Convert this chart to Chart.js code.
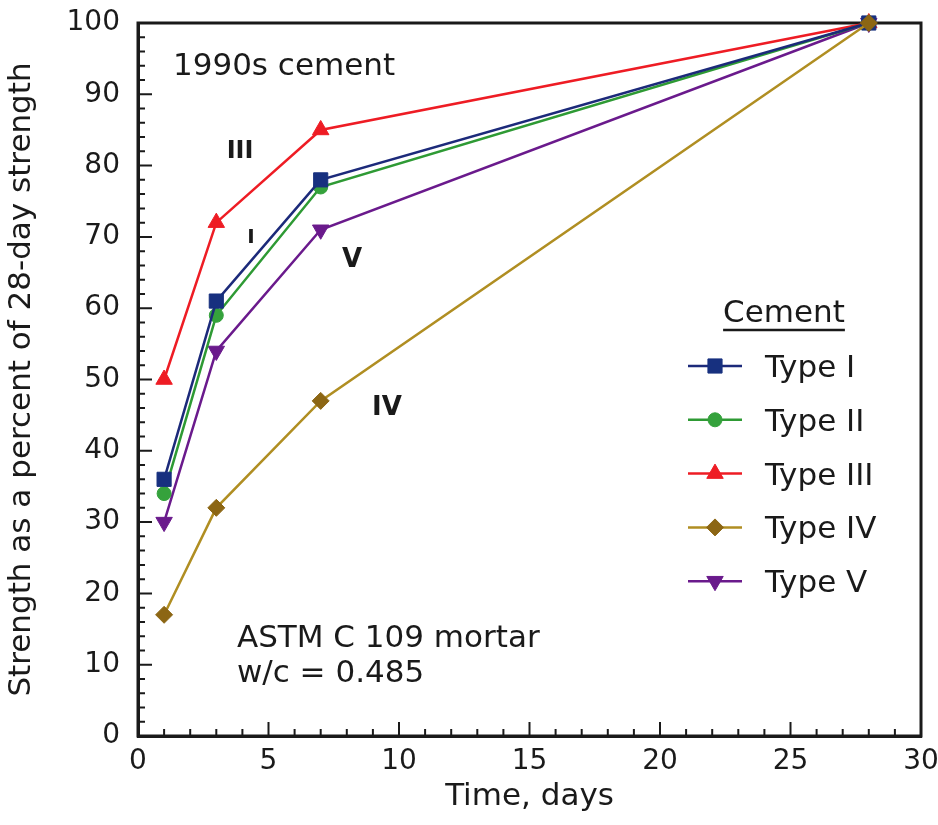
<!DOCTYPE html>
<html><head><meta charset="utf-8">
<script src="https://cdn.jsdelivr.net/npm/chart.js@4.4.1/dist/chart.umd.min.js"></script>
<style>html,body{margin:0;padding:0;background:#fff;}#wrap{width:938px;height:825px;}</style>
</head><body><div id="wrap"><canvas id="c" width="938" height="825"></canvas></div>
<script>
// ---- data ----
const days = [1, 3, 7, 28];
const typeI = [36, 61, 78, 100];
const typeII = [34, 59, 77, 100];
const typeIII = [50, 72, 85, 100];
const typeIV = [17, 32, 47, 100];
const typeV = [30, 54, 71, 100];
const seriesNames = ['Type I', 'Type II', 'Type III', 'Type IV', 'Type V'];
const xTickValues = [0, 5, 10, 15, 20, 25, 30];
const yTickValues = [0, 10, 20, 30, 40, 50, 60, 70, 80, 90, 100];
const xAxisTitle = 'Time, days';
const yAxisTitle = 'Strength as a percent of 28-day strength';
const legendTitle = 'Cement';

const FONT = "'DejaVu Sans', 'Liberation Sans', sans-serif";
const INK = '#1a1a1a';

// styles
const styles = [
  {line: '#1c2a7a', fill: '#17307f', shape: 'rect', r: 10, rot: 0},
  {line: '#2e9a34', fill: '#35a23c', shape: 'circle', r: 7, rot: 0},
  {line: '#ee1c24', fill: '#ee1c24', shape: 'triangle', r: 9.5, rot: 0},
  {line: '#b08e22', fill: '#8c6614', shape: 'rectRot', r: 8.5, rot: 0},
  {line: '#6a1a8c', fill: '#6a1a8c', shape: 'triangle', r: 9.5, rot: 180}
];
const values = [typeI, typeII, typeIII, typeIV, typeV];
const drawOrder = [1, 2, 3, 0, 4];

// annotations in data coordinates
const notes = [
  {text: '1990s cement', x: 1.34, y: 92.7, font: '31px ' + FONT, align: 'left'},
  {text: 'III', x: 3.91, y: 81.1, font: 'bold 24px ' + FONT, align: 'center'},
  {text: 'I', x: 4.33, y: 69.1, font: 'bold 20px ' + FONT, align: 'center'},
  {text: 'V', x: 8.2, y: 65.8, font: 'bold 26px ' + FONT, align: 'center'},
  {text: 'IV', x: 9.54, y: 45.0, font: 'bold 26px ' + FONT, align: 'center'},
  {text: 'ASTM C 109 mortar', x: 3.79, y: 12.5, font: '31px ' + FONT, align: 'left'},
  {text: 'w/c = 0.485', x: 3.79, y: 7.6, font: '31px ' + FONT, align: 'left'}
];

const datasets = seriesNames.map((name, i) => ({
  label: name,
  data: days.map((d, j) => ({x: d, y: values[i][j]})),
  borderColor: styles[i].line,
  backgroundColor: styles[i].fill,
  pointBackgroundColor: styles[i].fill,
  pointBorderColor: styles[i].fill,
  pointStyle: styles[i].shape,
  pointRadius: styles[i].r,
  pointRotation: styles[i].rot,
  pointBorderWidth: 1,
  borderWidth: 2.5,
  tension: 0,
  clip: false,
  order: drawOrder[i]
}));

const framePlugin = {
  id: 'frame',
  beforeDatasetsDraw(chart) {
    const {ctx, chartArea: {left, right, top, bottom}, scales: {x, y}} = chart;
    ctx.save();
    ctx.strokeStyle = INK;
    ctx.lineWidth = 2;
    ctx.beginPath();
    for (let v = 0; v <= 30; v++) {
      const px = x.getPixelForValue(v);
      const len = v % 5 === 0 ? 14 : 7;
      ctx.moveTo(px, bottom); ctx.lineTo(px, bottom - len);
    }
    for (let v = 0; v <= 100; v += 2) {
      const py = y.getPixelForValue(v);
      const len = v % 10 === 0 ? 14 : 7;
      ctx.moveTo(left, py); ctx.lineTo(left + len, py);
    }
    ctx.stroke();
    ctx.lineWidth = 3;
    ctx.strokeRect(left, top, right - left, bottom - top);
    ctx.restore();
  },
  afterDraw(chart) {
    const {ctx, scales: {x, y}} = chart;
    ctx.save();
    ctx.fillStyle = INK;
    ctx.textBaseline = 'alphabetic';
    notes.forEach(n => {
      ctx.font = n.font;
      ctx.textAlign = n.align;
      ctx.fillText(n.text, x.getPixelForValue(n.x), y.getPixelForValue(n.y));
    });
    // legend
    const cx = 784, titleBase = 322;
    ctx.font = '31px ' + FONT;
    ctx.textAlign = 'center';
    ctx.fillText(legendTitle, cx, titleBase);
    const tw = ctx.measureText(legendTitle).width;
    ctx.lineWidth = 2.5;
    ctx.strokeStyle = INK;
    ctx.beginPath(); ctx.moveTo(cx - tw / 2, 330); ctx.lineTo(cx + tw / 2, 330); ctx.stroke();
    ctx.textAlign = 'left';
    seriesNames.forEach((name, i) => {
      const yy = 366 + i * 53.8;
      const st = styles[i];
      ctx.strokeStyle = st.line;
      ctx.lineWidth = 2.5;
      ctx.beginPath(); ctx.moveTo(688, yy); ctx.lineTo(742, yy); ctx.stroke();
      ctx.fillStyle = st.fill;
      ctx.strokeStyle = st.fill;
      ctx.lineWidth = 1;
      Chart.helpers.drawPoint(ctx, {pointStyle: st.shape, rotation: st.rot, radius: st.r, borderWidth: 1}, 715, yy);
      ctx.fillStyle = INK;
      ctx.font = '31px ' + FONT;
      ctx.fillText(name, 765, yy + 11);
    });
    ctx.restore();
  }
};

new Chart(document.getElementById('c'), {
  type: 'line',
  data: {datasets},
  options: {
    responsive: false,
    animation: false,
    devicePixelRatio: 1,
    layout: {padding: {top: 23, right: 17, left: 0, bottom: 0}},
    plugins: {legend: {display: false}, tooltip: {enabled: false}},
    scales: {
      x: {
        type: 'linear', min: 0, max: 30,
        afterBuildTicks: s => { s.ticks = xTickValues.map(v => ({value: v})); },
        ticks: {font: {family: FONT, size: 28}, color: INK, padding: 9, maxRotation: 0, autoSkip: false},
        grid: {display: false, drawTicks: false},
        border: {display: true, color: INK, width: 3},
        title: {display: true, text: xAxisTitle, font: {family: FONT, size: 31}, color: INK, padding: {top: 0, bottom: 9}},
        afterFit: s => { s.height = 89; s.paddingLeft = 0; s.paddingRight = 0; }
      },
      y: {
        type: 'linear', min: 0, max: 100,
        afterBuildTicks: s => { s.ticks = yTickValues.map(v => ({value: v})); },
        ticks: {font: {family: FONT, size: 28}, color: INK, padding: 18, autoSkip: false},
        grid: {display: false, drawTicks: false},
        border: {display: true, color: INK, width: 3},
        title: {display: true, text: yAxisTitle, font: {family: FONT, size: 31}, color: INK, padding: {top: 3, bottom: 0}},
        afterFit: s => { s.width = 138; s.paddingTop = 0; s.paddingBottom = 0; }
      }
    }
  },
  plugins: [framePlugin]
});
</script></body></html>
